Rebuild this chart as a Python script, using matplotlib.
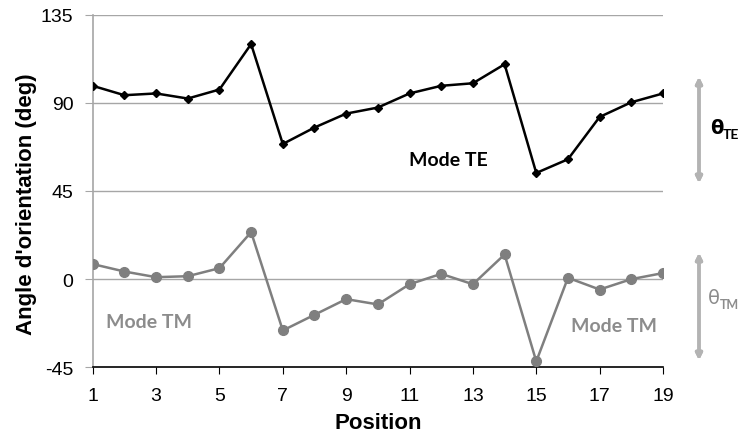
import matplotlib.pyplot as plt
import numpy as np

# Data
positions = np.arange(1, 20)
theta_te = [98.7, 93.9, 94.8, 92.2, 96.8, 120.0, 69.0, 77.4, 84.5, 87.6,
            94.8, 98.7, 100.0, 109.7, 54.2, 61.2, 82.8, 90.3, 94.8]
theta_tm = [7.7, 3.9, 1.0, 1.5, 5.6, 24.0, -26.2, -18.2, -10.2, -12.9,
            -2.6, 2.7, -2.6, 12.6, -42.0, 0.7, -5.3, 0.0, 3.1]
y_ticks = [-45, 0, 45, 90, 135]
x_ticks = [1, 3, 5, 7, 9, 11, 13, 15, 17, 19]

plt.rcParams['font.family'] = ['Liberation Sans', 'DejaVu Sans']
plt.rcParams['axes.unicode_minus'] = False

W, H = 742, 439
fig = plt.figure(figsize=(W / 100, H / 100), dpi=100)
ax = fig.add_axes([92.7 / W, 1 - 368.3 / H, (663 - 92.7) / W, (368.3 - 15.7) / H])

# Grid lines
for yv in y_ticks[1:]:
    ax.axhline(yv, color='#a6a6a6', lw=1.0, zorder=1)

ax.plot(positions, theta_te, color='black', lw=1.8, marker='D', ms=4.5, zorder=3)
ax.plot(positions, theta_tm, color='#7f7f7f', lw=1.8, marker='o', ms=7, zorder=3)

ax.set_xlim(1, 19)
ax.set_ylim(-45, 135)
ax.set_xticks(x_ticks)
ax.set_yticks(y_ticks)
ax.tick_params(axis='both', labelsize=14)
ax.tick_params(axis='y', direction='out', length=6, color='#a6a6a6', pad=8)
ax.tick_params(axis='x', direction='out', length=5, color='black', pad=9)

for s in ['top', 'right']:
    ax.spines[s].set_visible(False)
ax.spines['left'].set_color('#a6a6a6')
ax.spines['left'].set_linewidth(1.2)
ax.spines['bottom'].set_color('black')
ax.spines['bottom'].set_linewidth(1.2)

ax.set_xlabel('Position', fontsize=16, fontweight='bold', labelpad=6)
ax.set_ylabel("Angle d'orientation (deg)", fontsize=16, fontweight='bold', labelpad=0)
ax.yaxis.set_label_coords(37 / W, 1 - 204 / H, transform=fig.transFigure)

# Mode labels
ax.text(448 / W, 1 - 160 / H, 'Mode TE', transform=fig.transFigure, family='Lato',
        fontsize=14, fontweight='bold', color='black', ha='center', va='center')
ax.text(149 / W, 1 - 323 / H, 'Mode TM', transform=fig.transFigure, family='Lato',
        fontsize=14, fontweight='bold', color='#8c8c8c', ha='center', va='center')
ax.text(614 / W, 1 - 326 / H, 'Mode TM', transform=fig.transFigure, family='Lato',
        fontsize=14, fontweight='bold', color='#8c8c8c', ha='center', va='center')

# Double arrows on the right
arrow = dict(arrowstyle='<|-|>', color='#b3b3b3', lw=2.5, mutation_scale=9)
fig.add_artist(plt.annotate('', xy=(699 / W, 1 - 75 / H), xytext=(699 / W, 1 - 187 / H),
                            xycoords='figure fraction', arrowprops=arrow))
fig.add_artist(plt.annotate('', xy=(699 / W, 1 - 251 / H), xytext=(699 / W, 1 - 364 / H),
                            xycoords='figure fraction', arrowprops=arrow))

fig.text(710 / W, 1 - 129 / H, 'θ', fontsize=14, fontweight='bold', color='black',
         ha='left', va='center', family='DejaVu Sans')
fig.text(723 / W, 1 - 135 / H, 'TE', fontsize=10, fontweight='bold', color='black',
         ha='left', va='center', family='Lato')
fig.text(708 / W, 1 - 299 / H, 'θ', fontsize=14, color='#8c8c8c',
         ha='left', va='center', family='DejaVu Sans')
fig.text(720 / W, 1 - 305 / H, 'TM', fontsize=9, fontweight='bold', color='#8c8c8c',
         ha='left', va='center', family='Lato')

fig.savefig('out.png', dpi=100)
